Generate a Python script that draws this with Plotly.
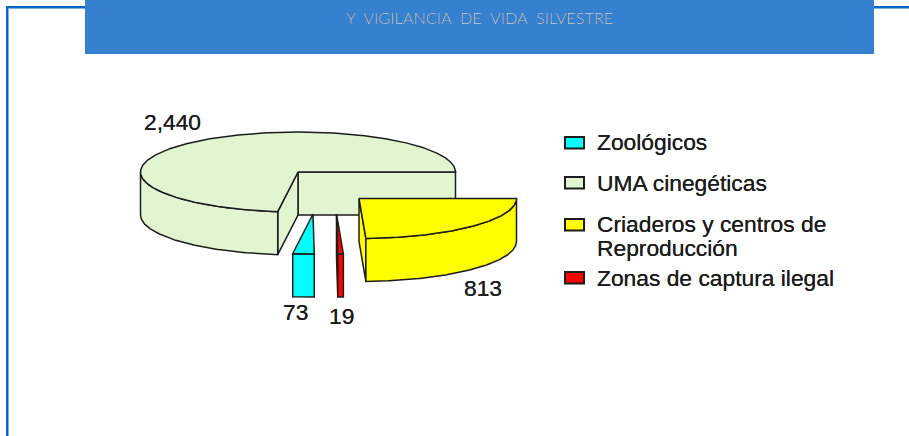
"""
Exploded 3-D style pie of wildlife management units, drawn as filled
scatter polygons on a pixel-sized axis (Plotly has no 3-D pie).
"""

import numpy as np
import plotly.graph_objects as go

CATEGORIES = ["Zoológicos", "UMA cinegéticas", "Criaderos y centros de<br>Reproducción", "Zonas de captura ilegal"]
VALUES = [73, 2440, 813, 19]
VALUE_LABELS = ["73", "2,440", "813", "19"]
COLORS = ["#00ffff", "#e1f5d1", "#ffff00", "#ff0000"]
HEADER_TEXT = "Y\u00a0\u00a0VIGILANCIA\u00a0\u00a0DE\u00a0\u00a0VIDA\u00a0\u00a0SILVESTRE"

# pie drawing order, counter-clockwise from east
SLICE_ORDER = [1, 0, 3, 2]

WIDTH, HEIGHT = 909, 436
CX, CY = 298, 172
RX, RY = 157.5, 40
DEPTH = 43
# how far each slice is pulled out, px
OFFSETS = {1: (0, 0), 0: (15, 42), 3: (38.5, 42), 2: (61, 26.5)}
LABEL_POS = [(295, 312), (172, 122), (483, 288), (341, 316)]
LEGEND_TOP = [137, 177, 219, 272]
LEGEND_TEXT_Y = [141.5, 182.5, 223.5, 277.5]
LINE_GAP = 24

INK = "#1c1c1c"
FRAME = "#0a66c8"
HEADER = "#3581d0"


def arc(a0, a1, dx, dy, drop=0):
    t = np.deg2rad(np.linspace(a0, a1, max(int(abs(a1 - a0)) * 2, 2)))
    return CX + dx + RX * np.cos(t), CY + dy - RY * np.sin(t) + drop


def poly(fig, xs, ys, color, name):
    fig.add_trace(go.Scatter(
        x=np.append(xs, xs[0]), y=np.append(ys, ys[0]),
        mode="lines", fill="toself", fillcolor=color,
        line=dict(color=INK, width=1.5),
        hoverinfo="text", text=name, showlegend=False,
    ))


def cut_face(fig, angle, dx, dy, color, name):
    ex, ey = arc(angle, angle, dx, dy)
    x0, y0 = CX + dx, CY + dy
    poly(fig, np.array([x0, ex[0], ex[0], x0]),
         np.array([y0, ey[0], ey[0] + DEPTH, y0 + DEPTH]), color, name)


fig = go.Figure()

total = sum(VALUES)
start = 0.0
for i in SLICE_ORDER:
    end = start + 360 * VALUES[i] / total
    dx, dy = OFFSETS[i]
    name = CATEGORIES[i].replace("<br>", " ")

    if np.sin(np.deg2rad(start - 90)) < 0:
        cut_face(fig, start, dx, dy, COLORS[i], name)
    if np.sin(np.deg2rad(end + 90)) < 0:
        cut_face(fig, end, dx, dy, COLORS[i], name)

    # outer wall only where the rim faces the viewer
    w0, w1 = max(start, 180), end
    if w1 > w0:
        tx, ty = arc(w0, w1, dx, dy)
        bx, by = arc(w1, w0, dx, dy, DEPTH)
        poly(fig, np.r_[tx, bx], np.r_[ty, by], COLORS[i], name)

    tx, ty = arc(start, end, dx, dy)
    poly(fig, np.r_[CX + dx, tx], np.r_[CY + dy, ty], COLORS[i], name)
    start = end

# page furniture behind the chart
shapes = [
    dict(type="rect", x0=6, x1=8, y0=6, y1=HEIGHT, fillcolor=FRAME, line_width=0),
    dict(type="rect", x0=8, x1=9, y0=8, y1=HEIGHT, fillcolor="#7fb0e4", line_width=0),
    dict(type="rect", x0=6, x1=WIDTH, y0=6, y1=8, fillcolor=FRAME, line_width=0),
    dict(type="rect", x0=8, x1=WIDTH, y0=8, y1=9, fillcolor="#7fb0e4", line_width=0),
    dict(type="rect", x0=85, x1=874, y0=0, y1=54, fillcolor=HEADER, line_width=0),
]
for top, color in zip(LEGEND_TOP, COLORS):
    shapes.append(dict(type="rect", x0=565, x1=584, y0=top, y1=top + 11.5,
                       fillcolor=color, line=dict(color=INK, width=2)))

annotations = [dict(x=479.5, y=17.5, text=HEADER_TEXT, showarrow=False,
                    font=dict(family="Lato", size=16.3, color="#c4d9f1", weight=300))]
for (x, y), label in zip(LABEL_POS, VALUE_LABELS):
    annotations.append(dict(x=x, y=y, text=label, showarrow=False))
for y, label in zip(LEGEND_TEXT_Y, CATEGORIES):
    # separate annotations per line, the wrapped entry is set tighter than plotly's <br>
    for k, line in enumerate(label.split("<br>")):
        annotations.append(dict(x=595, y=y + k * LINE_GAP, text=line, showarrow=False,
                                xanchor="left", align="left"))

fig.update_layout(
    width=WIDTH, height=HEIGHT,
    margin=dict(l=0, r=0, t=0, b=0),
    paper_bgcolor="white", plot_bgcolor="white",
    font=dict(family="Liberation Sans", size=22.8, color="#1c1c1c",
              shadow="0 0 0.6px #1c1c1c"),
    xaxis=dict(range=[0, WIDTH], visible=False, fixedrange=True),
    yaxis=dict(range=[HEIGHT, 0], visible=False, fixedrange=True),
    shapes=shapes, annotations=annotations,
)

fig.write_html("out.html", post_script="document.body.style.margin='0';", config=dict(displayModeBar=False))
